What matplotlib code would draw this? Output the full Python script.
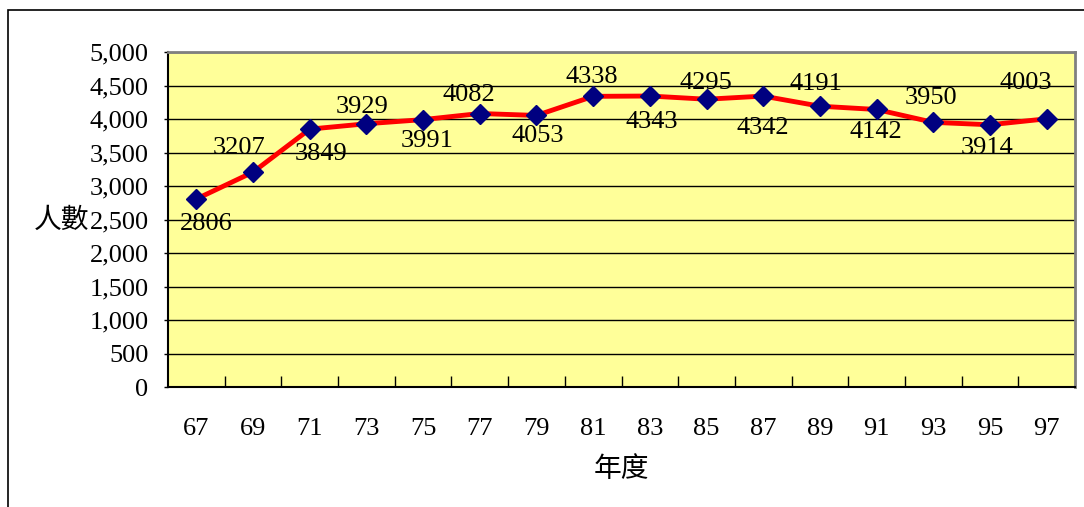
import matplotlib.pyplot as plt
from matplotlib.patches import Rectangle

years = ['67', '69', '71', '73', '75', '77', '79', '81', '83', '85', '87', '89', '91', '93', '95', '97']
people = [2806, 3207, 3849, 3929, 3991, 4082, 4053, 4338, 4343, 4295, 4342, 4191, 4142, 3950, 3914, 4003]

# label offsets in pixels (dx, dy), positive dy = below the marker
label_dx = [10, -14, 11, -4, 4, -11, 1, -1, 2, -1, 0, -4, -1, -2, -3, -21]
label_dy = [25, -24, 25, -17, 21, -19, 21, -19, 26, -16, 32, -22, 23, -24, 23, -36]

num_font = 'Liberation Serif'
cjk_font = ['Noto Sans CJK TC', 'DejaVu Sans']
fs = 19

W, H = 1084, 507
fig = plt.figure(figsize=(W / 100, H / 100), dpi=100)

# outer chart frame
fig.patches.append(Rectangle((8 / W, -0.1), 1.2, 1 - 10 / H + 0.1, transform=fig.transFigure,
                             fill=False, edgecolor='black', linewidth=1.2))

ax = fig.add_axes([168 / W, 1 - 387 / H, (1075 - 168) / W, (387 - 52) / H])
ax.set_facecolor('#FFFF99')

x = list(range(len(years)))
ax.plot(x, people, color='#FF0000', linewidth=3.5, marker='D', markersize=10.5,
        markerfacecolor='#000080', markeredgecolor='#000080', zorder=3)

for i, v in enumerate(people):
    ax.annotate(str(v), (i, v), xytext=(label_dx[i], -label_dy[i]), textcoords='offset pixels',
                ha='center', va='center', fontsize=fs, family=num_font, zorder=4)

ax.set_xlim(-0.5, len(years) - 0.5)
ax.set_ylim(0, 5000)
ax.set_yticks(range(0, 5001, 500))
ax.set_yticklabels([f'{v:,}' for v in range(0, 5001, 500)], fontsize=fs, family=num_font)
ax.grid(axis='y', color='black', linewidth=1)
ax.set_axisbelow(True)

ax.set_xticks(x)
ax.set_xticklabels(years, fontsize=fs, family=num_font)
ax.set_xticks([i + 0.5 for i in x[:-1]], minor=True)
ax.tick_params(axis='x', which='major', length=0, pad=22)
ax.tick_params(axis='x', which='minor', length=8, direction='in', width=1)
ax.tick_params(axis='y', length=3, pad=11, width=1)

for s in ['left', 'bottom']:
    ax.spines[s].set_color('black')
    ax.spines[s].set_linewidth(1.5)
for s in ['top', 'right']:
    ax.spines[s].set_color('#808080')
    ax.spines[s].set_linewidth(2)

ax.text(-0.117, 0.5, '人數', transform=ax.transAxes, ha='center', va='center',
        fontsize=20, family=cjk_font)
ax.text(0.5, -0.245, '年度', transform=ax.transAxes, ha='center', va='center',
        fontsize=20, family=cjk_font)

fig.savefig('out.png', dpi=100)
